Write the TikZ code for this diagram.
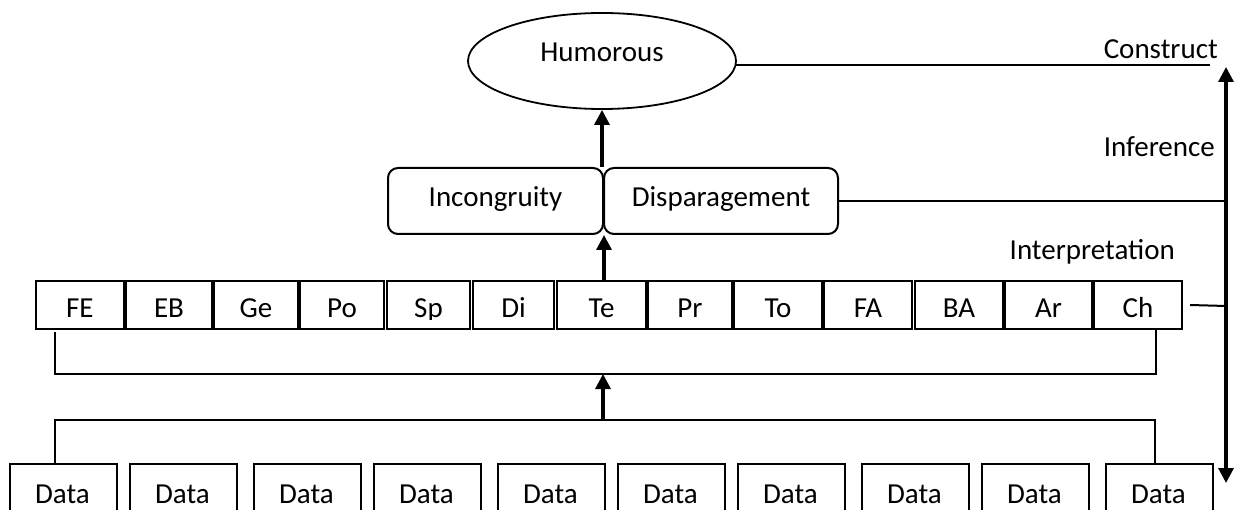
\documentclass[tikz,border=0pt]{standalone}
\usepackage{fontspec}
\setmainfont{Carlito}
\usetikzlibrary{shapes.geometric,arrows.meta}
\begin{document}
\begin{tikzpicture}[x=1pt,y=-1pt,
  every node/.style={font=\fontsize{29}{35}\selectfont},
  line/.style={line width=2pt},
  bigarrow/.style={line width=3.2pt,-{Triangle[width=15pt,length=15pt]}},
  lbl/.style={anchor=base,inner sep=0pt},
  rlbl/.style={anchor=base east,inner sep=0pt},
  boxshape/.style={draw,line width=2pt,inner sep=0pt,anchor=north west}]
\useasboundingbox (0,0) rectangle (1241,510);
\clip (0,0) rectangle (1241,510);
% Humorous ellipse
\node[draw,line width=1.8pt,ellipse,minimum width=268pt,minimum height=96pt,inner sep=0pt] (hum) at (602,61) {};
\node[lbl] (humt) at (602,62) {Humorous};
% Incongruity / Disparagement
\node[boxshape,rounded corners=10pt,minimum width=215pt,minimum height=66pt] (inc) at (387,167) {};
\node[boxshape,rounded corners=10pt,minimum width=234pt,minimum height=66pt] (dis) at (603,167) {};
\node[lbl] (inct) at (inc.center |- 0,207) {Incongruity};
\node[lbl] (dist) at (dis.center |- 0,207) {Disparagement};
% Interpretation row
\foreach \l/\r [count=\i] in {35/122.7,125/211,213/297,299/383,386/469,472/553,556/645,647/731,733/821,823/911,914/1002,1004/1091,1093/1181}{
  \pgfmathsetmacro\w{\r-\l}
  \node[boxshape,minimum width=\w pt,minimum height=48pt] (r\i) at (\l,280) {};
}
\begin{scope}
\clip (0,0) rectangle (1241,319);
\foreach \t [count=\i] in {FE,EB,Ge,Po,Sp,Di,Te,Pr,To,FA,BA,Ar,Ch}{
  \node[lbl] (rt\i) at (r\i.center |- 0,318) {\t};
}
\end{scope}
% Data row
\foreach \l [count=\i] in {9,129,253,373,497,617,737,861,981,1105}{
  \node[boxshape,minimum width=107pt,minimum height=60pt] (d\i) at (\l,463) {};
  \node[lbl] (dt\i) at (\l+53.5,503) {Data};
}
% brackets
\coordinate (ub) at (603,374);
\coordinate (lb) at (603,420);
\draw[line] (55,0 |- r1.south) ++(0,2) |- (ub) -| ([yshift=2pt]1156,0 |- r13.south);
\draw[line] (55,0 |- d1.north) |- (lb) -| (1155,0 |- d10.north);
\draw[bigarrow] (lb) -- (ub);
\draw[bigarrow] (r7.north -| inc.east) -- (inc.south -| inc.east);
\draw[bigarrow] (hum.south |- inc.north) -- (hum.south);
% right side
\coordinate (atop) at (1226,67);
\coordinate (abot) at (1226,483);
\coordinate (hend) at (1210,66);
\draw[line width=3.2pt,{Triangle[width=15pt,length=15pt]}-{Triangle[width=15pt,length=15pt]}] (abot) -- (atop);
\draw[line] ([xshift=-0.5pt,yshift=-4pt]hum.east) -- (hend |- 0,65);
\draw[line] (dis.east) -- (dis.east -| atop);
\draw[line] ([xshift=7pt]r13.east) -- (1226,306);
\node[rlbl] (cons) at (1218,59) {Construct};
\node[rlbl] (infe) at (1215,157) {Inference};
\node[rlbl] (intp) at (1175,260) {Interpretation};
\end{tikzpicture}
\end{document}
